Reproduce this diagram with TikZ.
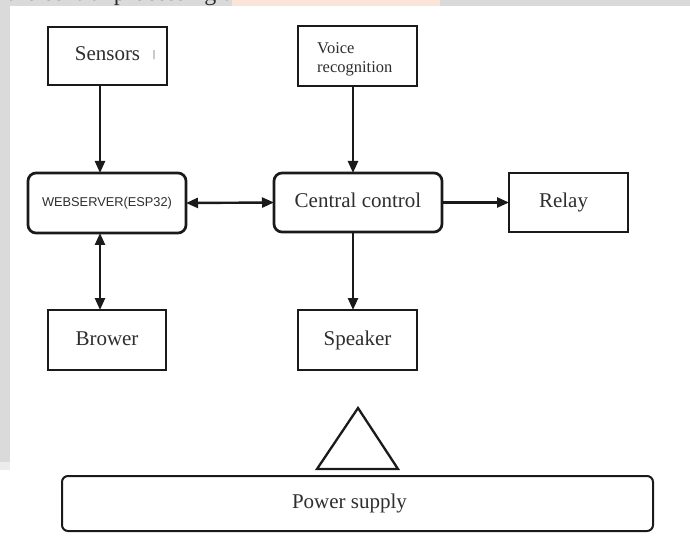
\documentclass[tikz,border=0pt]{standalone}
\usepackage{fontspec}
\setmainfont{Liberation Serif}
\newfontfamily\labelsans{Liberation Sans}
\usetikzlibrary{arrows.meta}

\definecolor{ink}{HTML}{1A1A1A}
\definecolor{txt}{HTML}{2E2E2E}
\definecolor{margin}{HTML}{DADADA}
\definecolor{tint}{HTML}{FBE4DA}

\begin{document}
\begin{tikzpicture}[x=1pt,y=-1pt,
  blockbox/.style={draw=ink,line width=2.7pt,inner sep=0pt,outer sep=0pt,
    text=txt,font=\fontsize{21}{24}\selectfont,text height=14pt,text depth=4pt},
  roundbox/.style={blockbox,rounded corners=8pt},
  link/.style={draw=ink,line width=2.4pt,-{Triangle[length=12pt,width=10pt]}},
  bilink/.style={draw=ink,line width=2.4pt,{Triangle[length=12pt,width=10pt]}-{Triangle[length=12pt,width=10pt]}}]

% page frame
\useasboundingbox (0,0) rectangle (690,537);
\fill[white] (0,0) rectangle (690,537);

% grey page edges
\fill[margin] (0,0) rectangle (690,6);
\fill[tint] (232,0) rectangle (440,6);
\fill[margin] (0,0) rectangle (10,462);
\fill[margin!50] (0,462) rectangle (10,470);

% running text cut by the page edge
\begin{scope}
  \clip (0,0) rectangle (232,6);
  \node[anchor=base west,inner sep=0pt,text=txt,font=\fontsize{24}{26}\selectfont]
    (runtext) at (7,1) {the central processing unit};
\end{scope}

% blocks
\node[blockbox,minimum width=119pt,minimum height=58pt] (sensors) at (107.5,56) {Sensors};
\node[text=txt,font=\fontsize{10}{10}\selectfont,inner sep=0pt] (mark) at (154,55) {|};
\node[blockbox,minimum width=119pt,minimum height=60pt] (voice) at (357.5,56) {};
\node[anchor=west,align=left,inner sep=0pt,text=txt,
  font=\fontsize{16.5}{19}\selectfont] (voicetext) at (317,59) {Voice\\recognition};
\node[roundbox,minimum width=158pt,minimum height=60pt,text height=9pt,text depth=2pt,
  font=\labelsans\fontsize{12.8}{14}\selectfont] (web) at (107,203) {WEBSERVER(ESP32)};
\node[roundbox,minimum width=168pt,minimum height=59pt] (central) at (358,202.5) {Central control};
\node[blockbox,minimum width=119pt,minimum height=59pt] (relay) at (568.5,202.5) {Relay\hspace*{10pt}};
\node[blockbox,minimum width=118pt,minimum height=60pt] (brower) at (107,340) {Brower};
\node[blockbox,minimum width=119pt,minimum height=60pt] (speaker) at (357.5,340) {Speaker};
\node[blockbox,line width=2pt,rounded corners=6pt,minimum width=591pt,minimum height=55pt]
  (power) at (357.5,503.5) {Power supply\hspace*{16pt}};

% triangle above the power supply
\draw[ink,line width=2.3pt,line join=miter] (358,408) -- (398,469) -- (317,469) -- cycle;

% connector columns
\coordinate (colweb) at (100,0);
\coordinate (colcen) at (353,0);

% connectors
\draw[link] (sensors.south -| colweb) -- (web.north -| colweb);
\draw[bilink] (web.south -| colweb) -- (brower.north -| colweb);
\draw[link] (voice.south -| colcen) -- (central.north -| colcen);
\draw[link] (central.south -| colcen) -- (speaker.north -| colcen);
\draw[bilink] (web.east) -- (central.west);
\draw[link] (central.east) -- (relay.west);
\end{tikzpicture}
\end{document}
